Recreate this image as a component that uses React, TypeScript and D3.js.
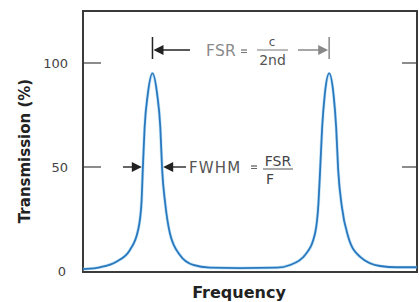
import * as d3 from "d3";

// transmission curve (frequency in arbitrary units across the plot)
const frequency = [
  0, 1, 5, 10, 14, 16.5, 17.5, 17.9, 18.45, 19.4, 20.8, 22.2, 23.15, 23.7, 24.6, 26, 29, 33, 38,
  47, 58, 62, 66.5, 69.5, 70.5, 71.0, 71.6, 72.4, 73.7, 75.0, 75.8, 76.4, 77.5, 79.4, 82.9, 88.9,
  93.9, 100,
];
const transmission = [
  0.9, 1.0, 1.8, 4.5, 10, 19.7, 32.5, 48.6, 69, 85, 95, 85, 69, 48.6, 32.7, 18.3, 7.7, 2.9, 1.6,
  1.4, 1.6, 2.9, 7.7, 18.3, 32.7, 48.6, 69, 85, 95, 85, 69, 48.6, 30.9, 16.5, 6.9, 2.4,
  1.8, 1.8,
];
const yTicks = [0, 50, 100];
const peaks = [20.8, 73.7];
const fwhmEdges = [17.9, 23.7];

const W = 419;
const H = 302;
const left = 83;
const right = 417;
const top = 11;
const bottom = 272;

export default function App() {
  const x = d3.scaleLinear().domain([0, 100]).range([left, right]);
  const y = d3.scaleLinear().domain([0, 100]).range([271, 63]);

  const pts = frequency.map((f, i) => [f, transmission[i]] as [number, number]);
  const line = d3
    .line<[number, number]>()
    .x((d) => x(d[0]))
    .y((d) => y(d[1]))
    .curve(d3.curveMonotoneX);

  const fsrY = 50;
  const p1 = x(peaks[0]);
  const p2 = x(peaks[1]);
  const hy = y(50);
  const e1 = x(fwhmEdges[0]);
  const e2 = x(fwhmEdges[1]);

  return (
    <svg width={W} height={H} style={{ position: "absolute", left: 0, top: 0 }}>
      <rect width={W} height={H} fill="#fff" />

      {/* ticks */}
      {yTicks.filter((t) => t > 0).map((t) => (
        <g key={t} stroke="#666" strokeWidth={1.5}>
          <line x1={left} x2={left + 18} y1={y(t)} y2={y(t)} />
          <line x1={right - 15} x2={right} y1={y(t)} y2={y(t)} />
        </g>
      ))}
      {yTicks.map((t) => (
        <text key={t} x={t === 0 ? 66 : 68} y={y(t)} dy="0.35em" textAnchor="end" fontSize={13}
          fontFamily="DejaVu Sans" fill="#444">{t}</text>
      ))}

      {/* frame */}
      <rect x={left} y={top} width={right - left} height={bottom - top} fill="none"
        stroke="#3a3a3a" strokeWidth={2} />

      {/* curve */}
      <path d={line(pts) || undefined} fill="none" stroke="#9fd3f2" strokeWidth={3.2} opacity={0.6} />
      <path d={line(pts) || undefined} fill="none" stroke="#2a78be" strokeWidth={1.8} />

      {/* FSR annotation */}
      <g>
        <line x1={p1} x2={p1} y1={37} y2={59} stroke="#222" strokeWidth={1.5} />
        <line x1={p1 + 6} x2={190} y1={fsrY} y2={fsrY} stroke="#222" strokeWidth={1.5} />
        <path d={`M${p1 + 1},${fsrY} l10,-5 v10 z`} fill="#222" />
        <line x1={p2} x2={p2} y1={37} y2={59} stroke="#888" strokeWidth={1.5} />
        <line x1={298} x2={p2 - 6} y1={fsrY} y2={fsrY} stroke="#888" strokeWidth={1.5} />
        <path d={`M${p2 - 1},${fsrY} l-10,-5 v10 z`} fill="#888" />
        <text x={206} y={55.5} fontSize={15.5} fontFamily="DejaVu Sans" fill="#8a8a8a" letterSpacing={0.3}>FSR</text>
        <line x1={241} x2={247} y1={50} y2={50} stroke="#777" strokeWidth={1.3} />
        <line x1={241} x2={247} y1={52.5} y2={52.5} stroke="#777" strokeWidth={1} />
        <text x={272} y={46} textAnchor="middle" fontSize={12} fontFamily="DejaVu Sans" fill="#555">c</text>
        <line x1={257} x2={288} y1={50} y2={50} stroke="#777" strokeWidth={1} />
        <text x={272.5} y={65} textAnchor="middle" fontSize={14} fontFamily="DejaVu Sans" fill="#555">2nd</text>
      </g>

      {/* FWHM annotation */}
      <g>
        <line x1={123} x2={e1 - 6} y1={hy} y2={hy} stroke="#333" strokeWidth={1.5} />
        <path d={`M${e1 - 1},${hy} l-10,-5 v10 z`} fill="#222" />
        <line x1={e2 + 6} x2={186} y1={hy} y2={hy} stroke="#333" strokeWidth={1.5} />
        <path d={`M${e2 + 1},${hy} l10,-5 v10 z`} fill="#222" />
        <text x={189} y={hy + 5.5} fontSize={15} fontFamily="DejaVu Sans" fill="#555" letterSpacing={1.2}>FWHM</text>
        <line x1={251} x2={257} y1={hy - 1} y2={hy - 1} stroke="#666" strokeWidth={1.3} />
        <line x1={251} x2={257} y1={hy + 1.5} y2={hy + 1.5} stroke="#666" strokeWidth={1} />
        <text x={278} y={hy - 1} textAnchor="middle" fontSize={14} fontFamily="DejaVu Sans" fill="#444">FSR</text>
        <line x1={263} x2={293} y1={hy + 2} y2={hy + 2} stroke="#555" strokeWidth={1} />
        <text x={270} y={hy + 17} textAnchor="middle" fontSize={14} fontFamily="DejaVu Sans" fill="#444">F</text>
      </g>

      {/* axis titles */}
      <text transform="translate(30,151) rotate(-90)" textAnchor="middle" fontSize={15}
        fontWeight="bold" fontFamily="DejaVu Sans" fill="#222">Transmission (%)</text>
      <text x={239} y={298} textAnchor="middle" fontSize={16} fontWeight="bold"
        fontFamily="DejaVu Sans" fill="#222">Frequency</text>
    </svg>
  );
}
